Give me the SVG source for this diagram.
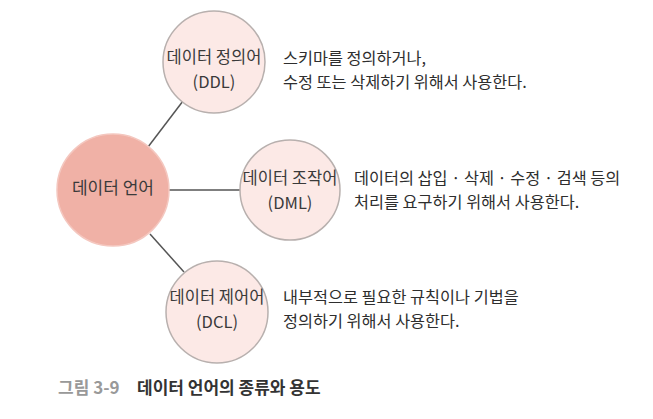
<svg xmlns="http://www.w3.org/2000/svg" width="653" height="419" viewBox="0 0 653 419">
<style>
text{font-family:"Noto Sans CJK KR","Noto Sans",sans-serif;fill:#3a3a3a}
.lbl{font-size:16.5px;text-anchor:middle}
.desc{font-size:16.3px;fill:#2e2e2e}
.sub{fill:#fce9e6;stroke:#b8b0ae;stroke-width:1.5}
.cap{font-size:17px;font-weight:bold}
</style>
<rect width="653" height="419" fill="#ffffff"/>
<g id="connectors" stroke="#555" stroke-width="1.5" fill="none">
<line x1="148" y1="147" x2="183" y2="101"/>
<line x1="169" y1="190" x2="241" y2="190"/>
<line x1="150" y1="234" x2="184" y2="272"/>
</g>
<g id="main">
<circle cx="113" cy="190" r="56" fill="#f0b1a6" stroke="#f4c7bf" stroke-width="1.5"/>
<text class="lbl" x="113" y="194" style="font-size:17px">데이터 언어</text>
</g>
<g id="ddl">
<circle class="sub" cx="214" cy="62" r="51"/>
<text class="lbl" x="214" y="63">데이터 정의어</text>
<text class="lbl" x="214" y="88">(DDL)</text>
</g>
<g id="dml">
<circle class="sub" cx="290" cy="190" r="50"/>
<text class="lbl" x="290" y="184">데이터 조작어</text>
<text class="lbl" x="290" y="209">(DML)</text>
</g>
<g id="dcl">
<circle class="sub" cx="217" cy="312" r="51"/>
<text class="lbl" x="217" y="303">데이터 제어어</text>
<text class="lbl" x="217" y="328">(DCL)</text>
</g>
<g id="desc-ddl">
<text class="desc" x="283" y="64">스키마를 정의하거나,</text>
<text class="desc" x="283" y="88">수정 또는 삭제하기 위해서 사용한다.</text>
</g>
<g id="desc-dml">
<text class="desc" x="354" y="184">데이터의 삽입 · 삭제 · 수정 · 검색 등의</text>
<text class="desc" x="354" y="208">처리를 요구하기 위해서 사용한다.</text>
</g>
<g id="desc-dcl">
<text class="desc" x="283" y="303">내부적으로 필요한 규칙이나 기법을</text>
<text class="desc" x="283" y="327">정의하기 위해서 사용한다.</text>
</g>
<g id="caption">
<text class="cap" x="58" y="394" fill="#999" style="fill:#999">그림 3-9</text>
<text class="cap" x="137" y="394" style="fill:#333">데이터 언어의 종류와 용도</text>
</g>
</svg>
